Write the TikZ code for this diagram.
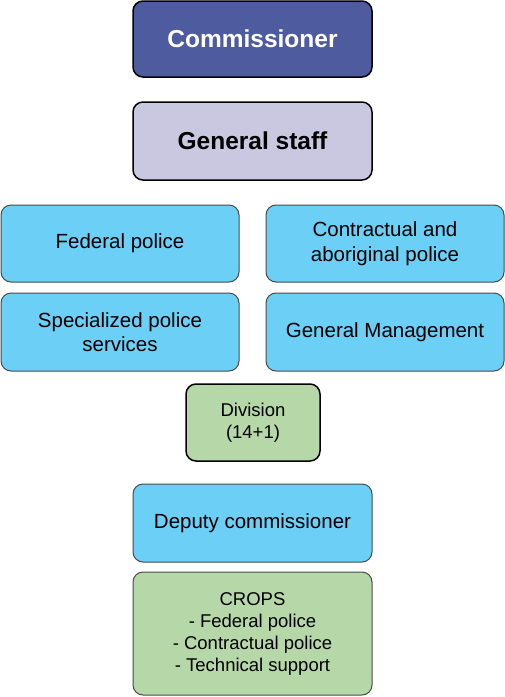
\documentclass[tikz,border=0pt]{standalone}
\usepackage{fontspec}
\setmainfont{Liberation Sans}
\usepackage{tikz}
\usetikzlibrary{positioning}
\definecolor{commblue}{HTML}{4F5B9F}
\definecolor{staffviolet}{HTML}{CAC7E0}
\definecolor{unitblue}{HTML}{6BCFF6}
\definecolor{divgreen}{HTML}{B6D7A8}
\definecolor{edgegray}{HTML}{4A4A4A}
\tikzset{
  orgbox/.style={rounded corners=10pt, align=center, inner sep=0pt},
  headbox/.style={orgbox, draw=black, line width=1.5pt, minimum width=239pt, minimum height=76pt,
    font=\fontsize{24.5}{29}\selectfont\bfseries},
  unitbox/.style={orgbox, draw=edgegray, line width=1pt, fill=unitblue, minimum width=238pt, minimum height=77pt,
    font=\fontsize{20.5}{24.5}\selectfont},
  greenbox/.style={orgbox, fill=divgreen, font=\fontsize{18.5}{22}\selectfont}
}
\begin{document}
\begin{tikzpicture}[x=1pt, y=-1pt]
          \useasboundingbox (0,0) rectangle (505,697);
          % Top of the chain
          \node[headbox, fill=commblue, text=white] (comm) at (252.5,39) {Commissioner};
          \node[headbox, fill=staffviolet, minimum height=78pt] (staff) at (252.5,141) {General staff};
          % Four units
          \node[unitbox] (fed) at (120,243.5) {Federal police};
          \node[unitbox] (contr) at (385,243.5) {Contractual and\\aboriginal police};
          \node[unitbox, minimum height=78pt] (spec) at (120,332) {Specialized police\\services};
          \node[unitbox, minimum height=78pt] (mgmt) at (385,332) {General Management};
          % Divisions
          \node[greenbox, draw=black, line width=1.5pt, minimum width=134pt, minimum height=77pt] (div) at (253,422.5) {Division\\(14+1)};
          % Deputy and CROPS
          \node[unitbox, minimum width=239pt, minimum height=78pt] (dep) at (252.5,523) {Deputy commissioner};
          \node[greenbox, draw=edgegray, line width=1pt, minimum width=239pt, minimum height=123pt] (crops) at (252.5,633.5)
            {CROPS\\- Federal police\\- Contractual police\\- Technical support};
        \end{tikzpicture}
\end{document}
